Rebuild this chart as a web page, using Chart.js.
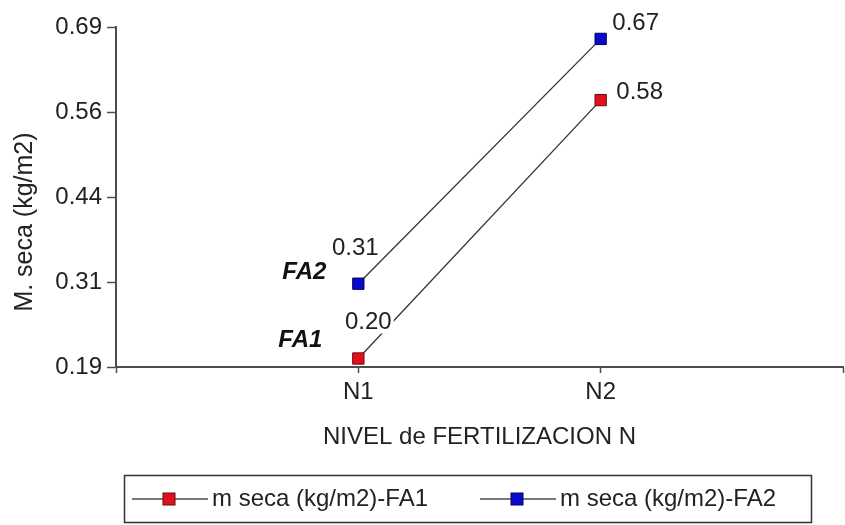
<!DOCTYPE html>
<html>
<head>
<meta charset="utf-8">
<title>M. seca por nivel de fertilización</title>
<script src="https://cdn.jsdelivr.net/npm/chart.js@4.4.1/dist/chart.umd.min.js"></script>
<style>
  body { margin: 0; background: #fff; }
  .chart-box { position: relative; width: 845px; height: 525px; }
</style>
</head>
<body>
<div class="chart-box"><canvas id="dry-matter-chart"></canvas></div>
<script>
// Data
const levels = ['', 'N1', 'N2', ''];
const fa1Values = [null, 0.20, 0.58, null];
const fa2Values = [null, 0.31, 0.67, null];
const seriesNames = ['m seca (kg/m2)-FA1', 'm seca (kg/m2)-FA2'];
const seriesTags = ['FA1', 'FA2'];
const yTickValues = [0.1875, 0.3125, 0.4375, 0.5625, 0.6875];
const yTickLabels = ['0.19', '0.31', '0.44', '0.56', '0.69'];

const FONT = "'Liberation Sans', Arial, sans-serif";
const TEXT = '#222';
const AXIS = '#4d4d4d';

Chart.defaults.font.family = FONT;
Chart.defaults.color = TEXT;

// Value labels, FA tags next to N1, rotated y title
const pointNotes = {
  id: 'pointNotes',
  afterDatasetsDraw(chart, args, opts) {
    const ctx = chart.ctx;
    ctx.save();
    chart.data.datasets.forEach((ds, i) => {
      const meta = chart.getDatasetMeta(i);
      meta.data.forEach((pt, j) => {
        const v = ds.data[j];
        const off = opts.valueOffsets[i][j];
        if (v == null || !off) return;
        const text = v.toFixed(2);
        const x = pt.x + off[0];
        const y = pt.y + off[1];
        ctx.font = '24px ' + FONT;
        const w = ctx.measureText(text).width;
        ctx.fillStyle = '#fff';
        ctx.fillRect(x - w / 2 - 2, y - 11, w + 4, 22);
        ctx.fillStyle = TEXT;
        ctx.textAlign = 'center';
        ctx.textBaseline = 'middle';
        ctx.fillText(text, x, y);
      });
      // series tag beside the first point
      const first = meta.data[1];
      const tagOff = opts.tagOffsets[i];
      ctx.font = 'italic bold 24px ' + FONT;
      ctx.fillStyle = '#111';
      ctx.textAlign = 'center';
      ctx.textBaseline = 'middle';
      ctx.fillText(seriesTags[i], first.x + tagOff[0], first.y + tagOff[1]);
    });
    ctx.restore();
  },
  afterDraw(chart, args, opts) {
    const ctx = chart.ctx;
    ctx.save();
    ctx.translate(opts.yTitle.x, opts.yTitle.y);
    ctx.rotate(-Math.PI / 2);
    ctx.font = '25px ' + FONT;
    ctx.fillStyle = TEXT;
    ctx.textAlign = 'center';
    ctx.textBaseline = 'middle';
    ctx.fillText(opts.yTitle.text, 0, 0);
    ctx.restore();
  }
};

// Boxed legend under the axis title
const boxLegend = {
  id: 'boxLegend',
  afterDraw(chart, args, opts) {
    const ctx = chart.ctx;
    const b = opts.box;
    ctx.save();
    ctx.strokeStyle = '#333';
    ctx.lineWidth = 1.5;
    ctx.strokeRect(b.x, b.y, b.w, b.h);
    const cy = b.y + b.h / 2;
    chart.data.datasets.forEach((ds, i) => {
      const x0 = opts.itemX[i];
      ctx.strokeStyle = '#7a7a7a';
      ctx.lineWidth = 2;
      ctx.beginPath();
      ctx.moveTo(x0, cy);
      ctx.lineTo(x0 + 76, cy);
      ctx.stroke();
      ctx.fillStyle = ds.pointBackgroundColor;
      ctx.strokeStyle = ds.pointBorderColor;
      ctx.lineWidth = 1;
      ctx.fillRect(x0 + 31, cy - 6, 12, 12);
      ctx.strokeRect(x0 + 31, cy - 6, 12, 12);
      ctx.font = '24px ' + FONT;
      ctx.fillStyle = TEXT;
      ctx.textAlign = 'left';
      ctx.textBaseline = 'middle';
      ctx.fillText(ds.label, x0 + 80, cy);
    });
    ctx.restore();
  }
};

const lineStyle = {
  borderColor: '#333',
  borderWidth: 1.3,
  pointStyle: 'rect',
  pointRadius: 8,
  pointHoverRadius: 8,
  pointBorderWidth: 1,
  fill: false,
  tension: 0
};

new Chart(document.getElementById('dry-matter-chart'), {
  type: 'line',
  data: {
    labels: levels,
    datasets: [{
      ...lineStyle,
      label: seriesNames[0],
      data: fa1Values,
      pointBackgroundColor: '#e0101c',
      pointBorderColor: '#6b0a0a'
    }, {
      ...lineStyle,
      label: seriesNames[1],
      data: fa2Values,
      pointBackgroundColor: '#0a0acc',
      pointBorderColor: '#05055e'
    }]
  },
  options: {
    responsive: true,
    maintainAspectRatio: false,
    animation: false,
    layout: {
      autoPadding: false,
      padding: { top: 27, right: 2, left: 0, bottom: 0 }
    },
    plugins: {
      legend: { display: false },
      tooltip: { enabled: false },
      pointNotes: {
        valueOffsets: [
          [null, [10, -36], [39, -8], null],
          [null, [-3, -35], [35, -16], null]
        ],
        tagOffsets: [[-58, -18], [-54, -11]],
        yTitle: { text: 'M. seca (kg/m2)', x: 25, y: 222 }
      },
      boxLegend: {
        box: { x: 124.5, y: 475.5, w: 687, h: 47 },
        itemX: [132, 480]
      }
    },
    scales: {
      x: {
        offset: false,
        border: { color: AXIS, width: 2 },
        grid: { drawOnChartArea: false, tickLength: 6, tickColor: AXIS, tickWidth: 1.5 },
        ticks: { font: { size: 24 }, padding: 5, maxRotation: 0, autoSkip: false },
        title: {
          display: true,
          text: 'NIVEL de FERTILIZACION N',
          font: { size: 24 },
          padding: { top: 0, bottom: 73 }
        },
        afterFit(scale) {
          scale.height = 158;
          scale.paddingLeft = 0;
          scale.paddingRight = 0;
        }
      },
      y: {
        min: yTickValues[0],
        max: yTickValues[yTickValues.length - 1],
        border: { color: AXIS, width: 2 },
        grid: { drawOnChartArea: false, tickLength: 9, tickColor: AXIS, tickWidth: 1.5 },
        afterBuildTicks(scale) {
          scale.ticks = yTickValues.map(v => ({ value: v }));
        },
        ticks: {
          font: { size: 24 },
          padding: 5,
          callback: (value, index) => yTickLabels[index]
        },
        afterFit(scale) { scale.width = 116; }
      }
    }
  },
  plugins: [pointNotes, boxLegend]
});
</script>
</body>
</html>
